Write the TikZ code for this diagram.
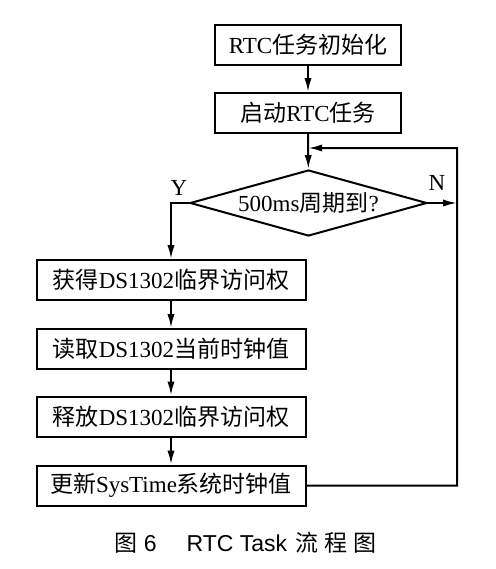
\documentclass[tikz,border=0pt]{standalone}
\usepackage{fontspec}
\setmainfont{Liberation Serif}
\newfontfamily\cjk{Noto Sans CJK SC}
\newfontfamily\capsf{Liberation Sans}
\usetikzlibrary{shapes.geometric}
\usetikzlibrary{calc}
\usetikzlibrary{arrows.meta}
\newcommand{\zh}[1]{{\cjk #1}}
\newcommand{\flbxwa}{93pt}
\newcommand{\flbxwb}{134.5pt}
\newcommand{\flbxh}{20pt}
\newcommand{\flcxa}{308}
\newcommand{\flcxb}{171}
\newcommand{\flcxr}{457}
\newcommand{\flya}{44.5}
\newcommand{\flyb}{113}
\newcommand{\flyc}{203}
\newcommand{\flyd}{280}
\newcommand{\flye}{349}
\newcommand{\flyf}{416.5}
\newcommand{\flyg}{485.5}
\newcommand{\flyloop}{148}
\newcommand{\flycap}{543}
\tikzset{
  flbox/.style={draw,line width=1pt,minimum height=\flbxh,inner sep=0pt},
  fldec/.style={draw,diamond,aspect=3.6,line width=1pt,
    minimum width=118.5pt,minimum height=33pt,inner sep=0pt},
  flarr/.style={line width=1pt,-{Latex[length=7pt,width=3.6pt]}},
  flline/.style={line width=1pt}
}

\begin{document}
\begin{tikzpicture}[x=0.5pt,y=-0.5pt,font=\fontsize{11.5pt}{13pt}\selectfont]
    \useasboundingbox (0,0) rectangle (496,569);

    \node (init) at (\flcxa, \flya) [flbox,minimum width=\flbxwa]
      {RTC\zh{任务初始化}};
    \node (start) at (\flcxa, \flyb) [flbox,minimum width=\flbxwa]
      {\zh{启动}RTC\zh{任务}};
    \node (chk) at (\flcxa + 0.5, \flyc) [fldec] {500ms\zh{周期到}?};
    \node (get) at (\flcxb, \flyd) [flbox,minimum width=\flbxwb]
      {\zh{获得}DS1302\zh{临界访问权}};
    \node (read) at (\flcxb, \flye) [flbox,minimum width=\flbxwb]
      {\zh{读取}DS1302\zh{当前时钟值}};
    \node (rel) at (\flcxb, \flyf) [flbox,minimum width=\flbxwb]
      {\zh{释放}DS1302\zh{临界访问权}};
    \node (upd) at (\flcxb, \flyg) [flbox,minimum width=\flbxwb]
      {\zh{更新}SysTime\zh{系统时钟值}};

    \node (yes) at (179, 188) {Y};
    \node (no) at (437, 183) {N};

    \coordinate (jn) at ($(start.south)!0.4!(chk.north)$);
    \coordinate (lp) at (\flcxr, \flyloop);

    \draw[flarr] (init) -- (start);
    \draw[flarr] (start) -- (chk);
    \draw[flarr] (chk.west) -| (get.north);
    \draw[flarr] (get) -- (read);
    \draw[flarr] (read) -- (rel);
    \draw[flarr] (rel) -- (upd);
    \draw[flarr] (chk.east) -- (chk.east -| lp);
    \draw[flarr] (upd.east) -| (lp) -- (jn);

    \node (cap) at (245.5, \flycap)
      {\zh{图}\hspace{3pt}{\capsf 6}\hspace{15pt}{\capsf RTC Task}\hspace{4pt}%
       \zh{流\hspace{3pt}程\hspace{3pt}图}};
\end{tikzpicture}
\end{document}
